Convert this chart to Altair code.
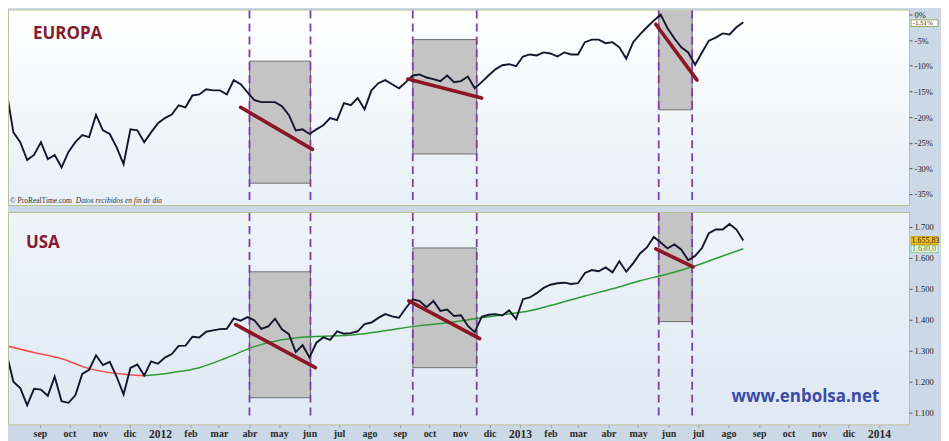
import altair as alt
import pandas as pd

# ---------------- data ----------------
WEEK_START = "2011-07-29"  # first weekly close shown

# EUROPA: % distance from the high, weekly closes
europa_pct = [
    -14.8, -23.0, -24.9, -28.4, -27.4, -24.9, -28.2, -27.4, -29.8, -26.8,
    -24.9, -23.5, -23.9, -19.6, -22.6, -23.3, -25.9, -29.2, -22.4, -22.6,
    -24.9, -23.0, -21.2, -20.2, -19.5, -17.7, -18.1, -15.8, -15.6, -14.6,
    -14.8, -14.8, -15.6, -12.8, -13.6, -15.2, -16.7, -17.1, -17.1, -17.1,
    -17.9, -19.6, -22.6, -22.4, -23.3, -22.4, -21.6, -20.2, -20.6, -17.3,
    -17.7, -16.3, -18.5, -14.8, -13.4, -12.8, -13.6, -14.4, -13.2, -11.9,
    -11.7, -12.3, -12.6, -13.0, -11.9, -13.2, -13.0, -12.1, -14.4, -13.2,
    -11.9, -10.7, -9.9, -9.7, -10.1, -8.2, -7.8, -8.0, -7.4, -7.6,
    -8.2, -7.4, -7.8, -7.8, -5.4, -4.9, -4.9, -5.6, -5.4, -6.4,
    -8.6, -5.4, -3.9, -2.5, -1.2, 0.0, -2.7, -4.7, -6.4, -7.4,
    -9.8, -7.4, -5.1, -4.5, -3.7, -3.9, -2.5, -1.51,
]

# USA: weekly closes
usa_close = [
    1292.3, 1199.4, 1178.8, 1123.5, 1176.8, 1174.0, 1154.2, 1216.0, 1136.4, 1131.4,
    1155.5, 1224.6, 1238.3, 1285.1, 1253.2, 1263.9, 1215.7, 1158.7, 1244.3, 1255.2,
    1219.7, 1265.3, 1257.6, 1277.8, 1289.1, 1315.4, 1316.3, 1344.9, 1342.6, 1361.2,
    1365.7, 1369.6, 1370.9, 1404.2, 1397.1, 1408.5, 1398.1, 1370.3, 1378.5, 1403.4,
    1369.1, 1353.4, 1295.2, 1317.8, 1278.0, 1325.7, 1342.8, 1335.0, 1362.2, 1354.7,
    1356.8, 1362.7, 1386.0, 1391.0, 1405.9, 1418.2, 1411.1, 1406.6, 1437.9, 1465.8,
    1460.2, 1440.7, 1460.9, 1428.6, 1433.2, 1411.9, 1414.2, 1379.9, 1359.9, 1409.2,
    1416.2, 1418.1, 1413.6, 1430.2, 1402.4, 1466.5, 1472.1, 1486.0, 1503.0, 1513.2,
    1517.9, 1519.8, 1515.6, 1518.2, 1551.2, 1560.7, 1556.9, 1569.2, 1553.3, 1588.9,
    1555.3, 1582.2, 1614.4, 1633.7, 1667.5, 1649.6, 1630.7, 1643.4, 1626.7, 1592.4,
    1606.3, 1631.9, 1680.2, 1692.1, 1691.7, 1709.7, 1691.4, 1655.83,
]

# USA moving average, read every 4th week
ma_weeks = [0, 4, 8, 12, 16, 20, 24, 28, 32, 36, 40, 44, 48, 52, 56, 60, 64, 68,
            72, 76, 80, 84, 88, 92, 96, 100, 104, 107]
ma_values = [1316, 1294, 1274, 1242, 1226, 1219, 1229, 1245, 1277, 1313, 1335,
             1345, 1348, 1355, 1368, 1381, 1390, 1403, 1416, 1429, 1452, 1477,
             1500, 1526, 1548, 1574, 1606, 1629.5]
ma_red_until = 20  # week index where the average turns from red to green

# shaded correction windows
box_start = ["2012-04-01", "2012-09-14", "2013-05-22"]
box_end = ["2012-06-02", "2012-11-18", "2013-06-25"]
eu_box_top = [-9.1, -4.9, 5.0]
eu_box_bottom = [-32.9, -27.2, -18.6]
us_box_top = [1555, 1632, 1800]
us_box_bottom = [1148, 1245, 1394]

# trend lines
eu_tr_d1 = ["2012-03-23", "2012-09-09", "2013-05-19"]
eu_tr_d2 = ["2012-06-04", "2012-11-23", "2013-06-30"]
eu_tr_v1 = [-18.1, -12.6, -1.9]
eu_tr_v2 = [-26.3, -16.3, -12.8]
us_tr_d1 = ["2012-03-18", "2012-09-10", "2013-05-19"]
us_tr_d2 = ["2012-06-07", "2012-11-21", "2013-06-26"]
us_tr_v1 = [1384, 1461, 1629]
us_tr_v2 = [1245, 1339, 1571]

eu_ticks = [0, -5, -10, -15, -20, -25, -30, -35]
us_ticks = [1100, 1200, 1300, 1400, 1500, 1600, 1700]
last_eu = -1.51
last_us = 1655.83
last_ma = 1630.0

# ---------------- frames ----------------
dates = pd.date_range(WEEK_START, periods=len(europa_pct), freq="7D").strftime("%Y-%m-%d")
df_eu = pd.DataFrame({"date": dates, "v": europa_pct})
df_us = pd.DataFrame({"date": dates, "v": usa_close})
df_ma = pd.DataFrame({"date": [dates[k] for k in ma_weeks], "v": ma_values, "k": ma_weeks})
df_ma_red = df_ma[df_ma.k <= ma_red_until]
df_ma_green = df_ma[df_ma.k >= ma_red_until]

df_eu_box = pd.DataFrame({"d1": box_start, "d2": box_end, "v1": eu_box_top, "v2": eu_box_bottom})
df_us_box = pd.DataFrame({"d1": box_start, "d2": box_end, "v1": us_box_top, "v2": us_box_bottom})
df_eu_tr = pd.DataFrame({"d1": eu_tr_d1, "d2": eu_tr_d2, "v1": eu_tr_v1, "v2": eu_tr_v2})
df_us_tr = pd.DataFrame({"d1": us_tr_d1, "d2": us_tr_d2, "v1": us_tr_v1, "v2": us_tr_v2})
df_vlines = pd.DataFrame({"date": box_start + box_end})

W = 902
H_TOP = 195
H_BOT = 212

xscale = alt.Scale(domain=[alt.DateTime(year=2011, month=7, date=31, hours=13),
                           alt.DateTime(year=2014, month=1, date=31, hours=12)])
eu_scale = alt.Scale(domain=[-37.16, 0.78], nice=False, zero=False)
us_scale = alt.Scale(domain=[1061.1, 1745], nice=False, zero=False)

month_ticks = []
y, m = 2011, 9
while (y, m) <= (2014, 1):
    month_ticks.append(alt.DateTime(year=y, month=m, date=1))
    m += 1
    if m > 12:
        m, y = 1, y + 1

x_axis_bottom = alt.Axis(
    values=month_ticks,
    labelExpr="month(datum.value)==0 ? timeFormat(datum.value,'%Y') : "
              "['ene','feb','mar','abr','may','jun','jul','ago','sep','oct','nov','dic'][month(datum.value)]",
    labelFont="Liberation Serif", labelFontWeight="bold", labelColor="#2a2a2a",
    labelFontSize={"condition": {"test": "month(datum.value)==0", "value": 11.5}, "value": 10},
    tickSize=3, tickColor="#9aa0a8", domain=False, grid=False, labelPadding=1,
    labelOverlap=False, title=None,
)

def yaxis(values, expr):
    return alt.Axis(orient="right", values=values, labelExpr=expr, tickSize=3,
                    tickColor="#555", domain=False, grid=False,
                    labelFont="Liberation Serif", labelFontSize=8.5, labelColor="#222",
                    labelPadding=2, title=None)

eu_yaxis = yaxis(eu_ticks, "datum.value + '%'")
us_yaxis = yaxis(us_ticks, "replace(format(datum.value, ','), ',', '.')")


def panel(df_price, df_box, df_tr, yscale, yax, xax, height, top_fill, bot_fill,
          vline_bottom, extra):
    X = lambda f: alt.X(f, type="temporal", scale=xscale, axis=xax, title=None)
    Y = lambda f: alt.Y(f, type="quantitative", scale=yscale, axis=yax, title=None)
    bg = alt.Chart(pd.DataFrame({"a": [0]})).mark_rect(
        fill=alt.Gradient(gradient="linear",
                          stops=[alt.GradientStop(color=top_fill, offset=0),
                                 alt.GradientStop(color=bot_fill, offset=1)],
                          x1=0, x2=0, y1=0, y2=1)
    ).encode(x=alt.value(0), x2=alt.value(W), y=alt.value(0), y2=alt.value(height))
    boxes = alt.Chart(df_box).mark_rect(fill="#c4c4c4", stroke="#6e6e6e",
                                        strokeWidth=1, clip=True).encode(
        x=X("d1"), x2="d2", y=Y("v1"), y2="v2")
    vlines = alt.Chart(df_vlines).mark_rule(color="#7b3fae", strokeWidth=1.8,
                                            strokeDash=[8, 5]).encode(
        x=X("date"), y=alt.value(0), y2=alt.value(vline_bottom))
    price = alt.Chart(df_price).mark_line(color="#15152e", strokeWidth=1.9,
                                          clip=True).encode(x=X("date"), y=Y("v"))
    trend = alt.Chart(df_tr).mark_rule(color="#8c1526", strokeWidth=3.6,
                                       strokeCap="round", clip=True).encode(
        x=X("d1"), x2="d2", y=Y("v1"), y2="v2")
    layers = [bg, boxes, vlines] + extra(X, Y) + [price, trend]
    return alt.layer(*layers).properties(width=W, height=height)


def eu_extra(X, Y):
    title = alt.Chart(pd.DataFrame({"t": ["EUROPA"]})).mark_text(
        font="Open Sans", fontWeight="bold", fontSize=17, color="#861a2e",
        align="left", baseline="middle").encode(x=alt.value(24), y=alt.value(24), text="t:N")
    src1 = alt.Chart(pd.DataFrame({"t": ["© ProRealTime.com"]})).mark_text(
        font="Liberation Serif", fontSize=7.5, color="#333", align="left",
        baseline="middle").encode(x=alt.value(1), y=alt.value(191), text="t:N")
    src2 = alt.Chart(pd.DataFrame({"t": ["Datos recibidos en fin de día"]})).mark_text(
        font="Liberation Serif", fontSize=7.5, fontStyle="italic", color="#333",
        align="left", baseline="middle").encode(x=alt.value(67), y=alt.value(191), text="t:N")
    lab = pd.DataFrame({"v": [last_eu - 0.2], "v1": [last_eu - 0.45], "v2": [last_eu - 0.85],
                        "t": [f"{last_eu:.2f}%"]})
    lab["v1"] = [-1.05]
    lab["v2"] = [-2.35]
    box = alt.Chart(lab).mark_rect(fill="white", stroke="#9aa85e", strokeWidth=1).encode(
        x=alt.value(W + 2), x2=alt.value(W + 29), y=Y("v1"), y2="v2")
    txt = alt.Chart(lab).mark_text(font="Liberation Serif", fontSize=7, color="#222",
                                   align="left", baseline="middle").encode(
        x=alt.value(W + 3.5), y=Y("v"), text="t:N")
    return [title, src1, src2, box, txt]


def us_extra(X, Y):
    ma_r = alt.Chart(df_ma_red).mark_line(color="#f0504a", strokeWidth=1.5, clip=True,
                                          interpolate="monotone").encode(x=X("date"), y=Y("v"))
    ma_g = alt.Chart(df_ma_green).mark_line(color="#2f9a33", strokeWidth=1.5, clip=True,
                                            interpolate="monotone").encode(x=X("date"), y=Y("v"))
    title = alt.Chart(pd.DataFrame({"t": ["USA"]})).mark_text(
        font="Open Sans", fontWeight="bold", fontSize=17, color="#861a2e",
        align="left", baseline="middle").encode(x=alt.value(17), y=alt.value(30), text="t:N")
    web = alt.Chart(pd.DataFrame({"t": ["www.enbolsa.net"]})).mark_text(
        font="Open Sans", fontWeight="bold", fontSize=17, color="#3c4ba6",
        align="left", baseline="middle").encode(x=alt.value(724), y=alt.value(184), text="t:N")
    lab = pd.DataFrame({"v": [last_us], "v1": [last_us + 13], "v2": [last_us - 13],
                        "t": ["1.655,83"]})
    box = alt.Chart(lab).mark_rect(fill="#f2c318", stroke="#c89a00", strokeWidth=0.8).encode(
        x=alt.value(W + 2), x2=alt.value(W + 29), y=Y("v1"), y2="v2")
    txt = alt.Chart(lab).mark_text(font="Liberation Serif", fontSize=8, color="#222",
                                   align="left", baseline="middle").encode(
        x=alt.value(W + 2.5), y=Y("v"), text="t:N")
    lab2 = pd.DataFrame({"v": [last_ma - 1], "v1": [last_ma + 12], "v2": [last_ma - 13],
                         "t": ["1.630,0"]})
    box2 = alt.Chart(lab2).mark_rect(fill="#e9f3e4", stroke="#8cc48c", strokeWidth=0.8).encode(
        x=alt.value(W + 2), x2=alt.value(W + 29), y=Y("v1"), y2="v2")
    txt2 = alt.Chart(lab2).mark_text(font="Liberation Serif", fontSize=8, color="#2f9a33",
                                     align="left", baseline="middle").encode(
        x=alt.value(W + 3), y=Y("v"), text="t:N")
    return [ma_r, ma_g, title, web, box2, txt2, box, txt]


top = panel(df_eu, df_eu_box, df_eu_tr, eu_scale, eu_yaxis, None, H_TOP,
            "#ffffff", "#e8eff8", H_TOP, eu_extra)
bottom = panel(df_us, df_us_box, df_us_tr, us_scale, us_yaxis, x_axis_bottom, H_BOT,
               "#eef4fa", "#dfe9f3", H_BOT - 4, us_extra)

chart = alt.vconcat(top, bottom, spacing=4).properties(
    padding={"left": 0, "top": 0, "right": 0, "bottom": 0},
    background="#cbd9e6",
).configure_view(stroke="#b7b77a", strokeWidth=1.5)

chart.save("out.html", embed_options={"renderer": "svg", "actions": False})
